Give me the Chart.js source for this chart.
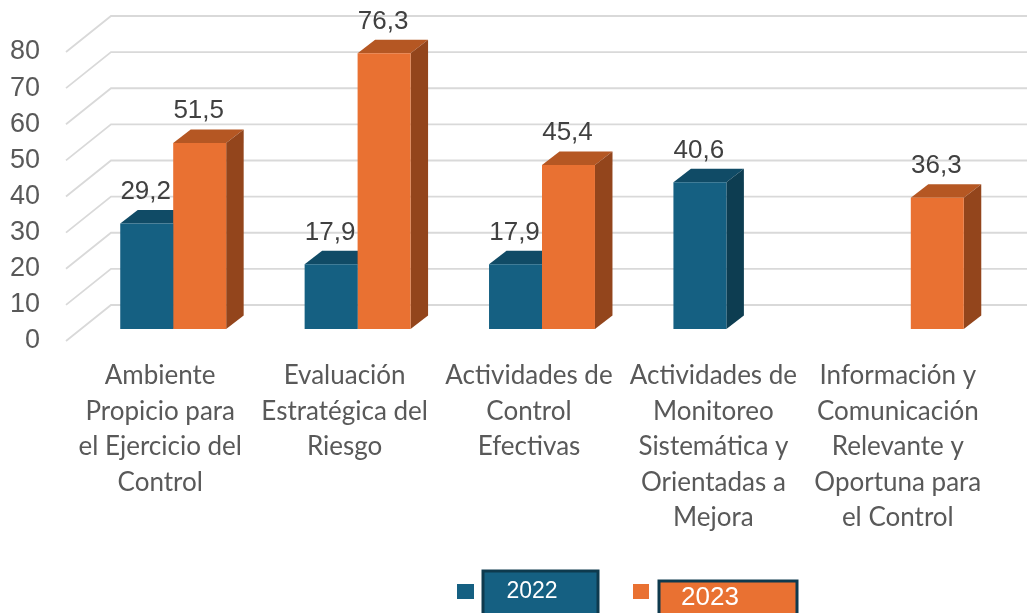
<!DOCTYPE html>
<html lang="es">
<head>
<meta charset="UTF-8">
<title>Componentes 2022 - 2023</title>
<style>
  html, body { margin: 0; padding: 0; background: #ffffff; overflow: hidden; }
  canvas { display: block; }
</style>
</head>
<body>
<canvas id="plot" width="1027" height="613"></canvas>
<script src="https://cdn.jsdelivr.net/npm/chart.js"></script>
<script>
const categories = [
  ['Ambiente', 'Propicio para', 'el Ejercicio del', 'Control'],
  ['Evaluación', 'Estratégica del', 'Riesgo'],
  ['Actividades de', 'Control', 'Efectivas'],
  ['Actividades de', 'Monitoreo', 'Sistemática y', 'Orientadas a', 'Mejora'],
  ['Información y', 'Comunicación', 'Relevante y', 'Oportuna para', 'el Control'],
];
const values2022 = [29.2, 17.9, 17.9, 40.6, null];
const values2023 = [51.5, 76.3, 45.4, null, 36.3];
const yearLabels = ['2022', '2023'];

const blue = '#156082';
const orange = '#e97132';
const shades = [
  { top: '#104b66', side: '#0d3d51' },
  { top: '#b55723', side: '#93451c' },
];
const grey = '#d9d9d9';

// fake 3d: walls and bar sides are drawn around what chart.js places
const depth3d = {
  id: 'depth3d',
  beforeDatasetsDraw(chart) {
    const { ctx, scales: { y } } = chart;
    ctx.save();
    ctx.strokeStyle = grey;
    ctx.lineWidth = 1.8;
    y.ticks.forEach((t) => {
      const back = y.getPixelForValue(t.value) - 24;
      ctx.beginPath();
      ctx.moveTo(66, back + 36);
      ctx.lineTo(111, back);
      ctx.lineTo(1027, back);
      ctx.stroke();
    });
    const dx = 17.5;
    const dy = 13.5;
    chart.data.datasets.forEach((ds, i) => {
      chart.getDatasetMeta(i).data.forEach((bar, j) => {
        if (ds.data[j] === null) return;
        const right = bar.x + bar.width / 2;
        const left = bar.x - bar.width / 2;
        ctx.fillStyle = shades[i].top;
        ctx.beginPath();
        ctx.moveTo(left, bar.y);
        ctx.lineTo(left + dx, bar.y - dy);
        ctx.lineTo(right + dx, bar.y - dy);
        ctx.lineTo(right, bar.y);
        ctx.closePath();
        ctx.fill();
        ctx.fillStyle = shades[i].side;
        ctx.beginPath();
        ctx.moveTo(right, bar.y);
        ctx.lineTo(right + dx, bar.y - dy);
        ctx.lineTo(right + dx, bar.base - dy);
        ctx.lineTo(right, bar.base);
        ctx.closePath();
        ctx.fill();
      });
    });
    ctx.restore();
  },
  afterDatasetsDraw(chart) {
    const { ctx } = chart;
    ctx.save();
    ctx.font = '26px "Liberation Sans"';
    ctx.fillStyle = '#404040';
    ctx.textAlign = 'center';
    ctx.textBaseline = 'middle';
    chart.data.datasets.forEach((ds, i) => {
      chart.getDatasetMeta(i).data.forEach((bar, j) => {
        if (ds.data[j] === null) return;
        ctx.fillText(ds.data[j].toFixed(1).replace('.', ','), bar.x - 1, bar.y - 32);
      });
    });
    ctx.restore();
  },
};

// legend in the original is a swatch next to a boxed label
const boxedLegend = {
  id: 'boxedLegend',
  afterDraw(chart) {
    const { ctx } = chart;
    const boxes = [
      { sx: 457, sw: 17, bx: 483, by: 571, bw: 115, fs: 23, tx: 532, ty: 592 },
      { sx: 633, sw: 16, bx: 659, by: 581, bw: 138, fs: 26, tx: 710, ty: 598 },
    ];
    ctx.save();
    chart.data.datasets.forEach((ds, i) => {
      const b = boxes[i];
      ctx.fillStyle = ds.backgroundColor;
      ctx.fillRect(b.sx, 584, b.sw, 15);
      ctx.fillRect(b.bx, b.by, b.bw, 60);
      ctx.strokeStyle = '#0e3a4e';
      ctx.lineWidth = 3;
      ctx.strokeRect(b.bx, b.by, b.bw, 60);
      ctx.fillStyle = '#ffffff';
      ctx.font = b.fs + 'px "Liberation Sans"';
      ctx.textAlign = 'center';
      ctx.textBaseline = 'middle';
      ctx.fillText(ds.label, b.tx, b.ty);
    });
    ctx.restore();
  },
};

new Chart(document.getElementById('plot'), {
  type: 'bar',
  data: {
    labels: categories,
    datasets: [
      { label: yearLabels[0], data: values2022, backgroundColor: blue },
      { label: yearLabels[1], data: values2023, backgroundColor: orange },
    ],
  },
  plugins: [depth3d, boxedLegend],
  options: {
    responsive: false,
    animation: false,
    categoryPercentage: 0.5745,
    barPercentage: 1,
    layout: { padding: { top: 40, right: 24, left: 0, bottom: 0 } },
    plugins: {
      legend: { display: false },
      tooltip: { enabled: false },
    },
    scales: {
      x: {
        afterFit(scale) { scale.height = 284; },
        grid: { display: false, drawTicks: false },
        border: { display: false },
        ticks: {
          autoSkip: false,
          maxRotation: 0,
          minRotation: 0,
          padding: 29,
          labelOffset: -13,
          color: '#595959',
          font: { family: 'Lato', size: 26, lineHeight: 1.365 },
        },
      },
      y: {
        min: 0,
        max: 80,
        afterFit(scale) {
          scale.width = 81;
          scale.paddingTop = 0;
          scale.paddingBottom = 0;
        },
        grid: { display: false, drawTicks: false },
        border: { display: false },
        ticks: {
          autoSkip: false,
          stepSize: 10,
          padding: 41,
          labelOffset: 12,
          color: '#595959',
          font: { family: 'Liberation Sans', size: 27 },
        },
      },
    },
  },
});
</script>
</body>
</html>
